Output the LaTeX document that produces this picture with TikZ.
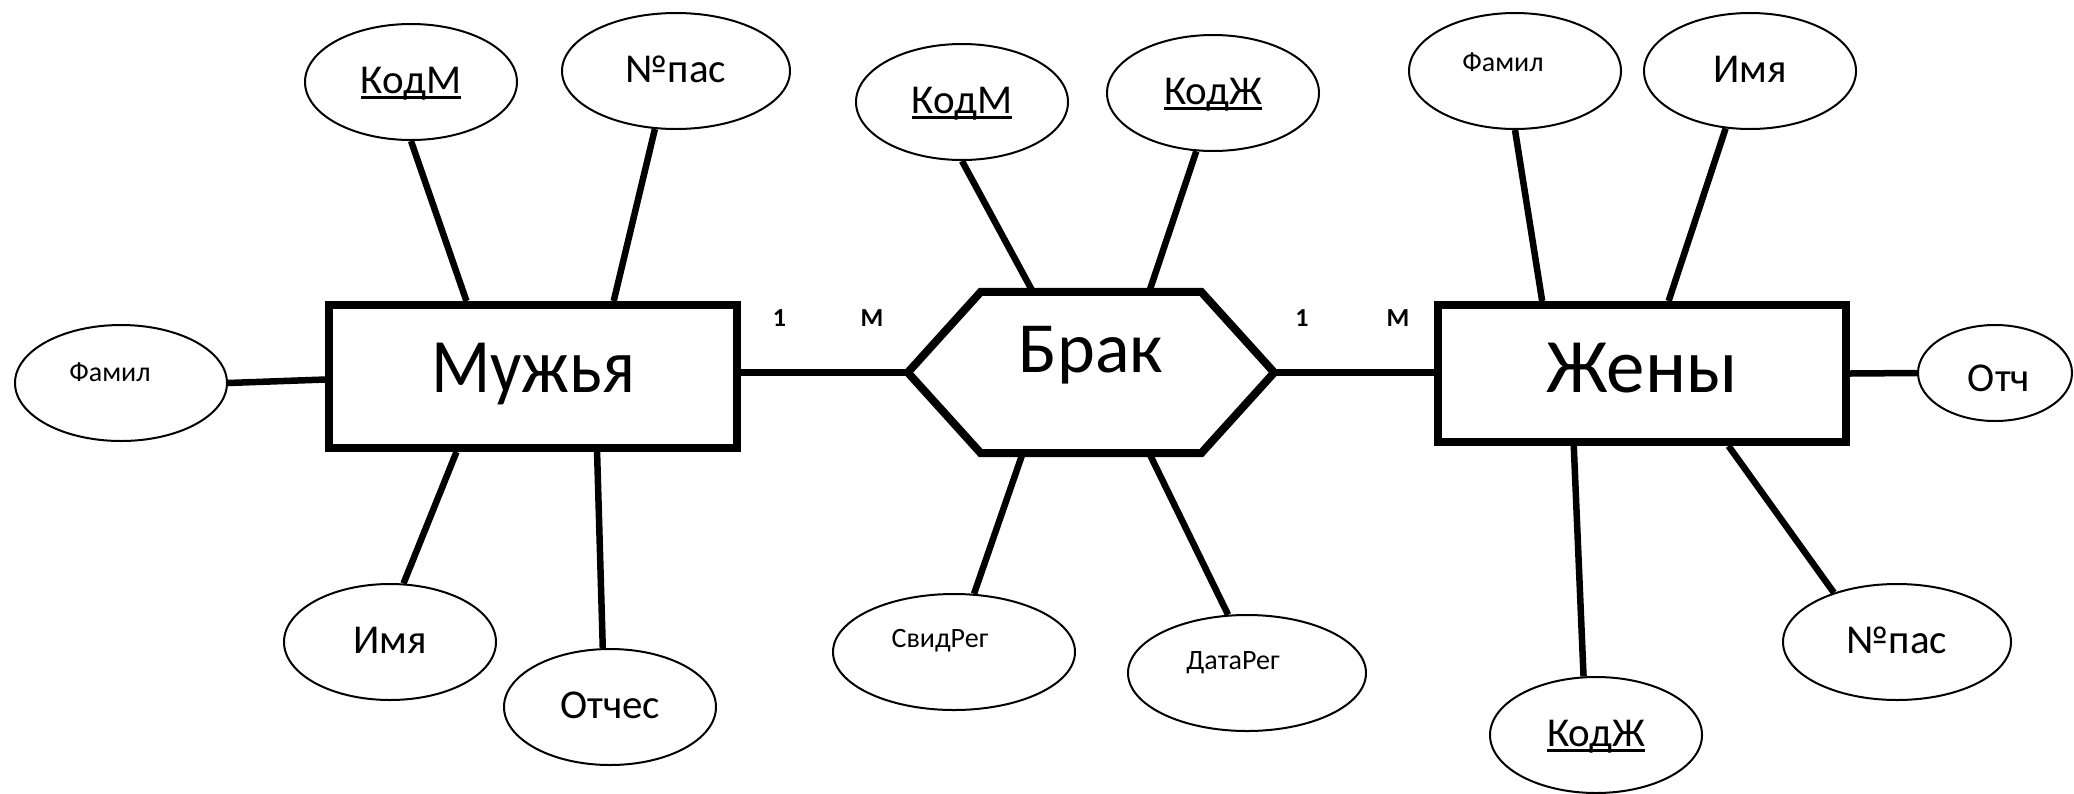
\documentclass[tikz,border=0pt]{standalone}
\usepackage{fontspec}
\usepackage{graphicx}
\setmainfont{Carlito}
\usetikzlibrary{shapes.geometric,calc}
\newcommand\ulin[1]{\setbox0\hbox{#1}\rlap{\rule[-6pt]{\wd0}{3.5pt}}\box0}
\begin{document}
\begin{tikzpicture}[x=1pt,y=-1pt,
  ent/.style={draw, line width=8pt, inner sep=0pt, minimum width=408pt, font=\fontsize{77}{80}\selectfont, text depth=0pt},
  attr/.style={draw, ellipse, line width=2pt, inner sep=0pt, minimum width=212pt, minimum height=116pt, font=\fontsize{41}{44}\selectfont, text height=22pt, text depth=0pt},
  link/.style={line width=6.5pt},
  card/.style={font=\bfseries\fontsize{26}{28}\selectfont, inner sep=0pt},
  smalltxt/.style={font=\fontsize{28}{30}\selectfont, inner sep=0pt},
  midtxt/.style={font=\fontsize{41}{44}\selectfont, inner sep=0pt}
]
\useasboundingbox (0,0) rectangle (2074,793);

% entities
\node[ent, minimum height=143pt, text height=31pt] (muz) at (533,376.5) {\scalebox{0.9}[1]{Мужья}};
\node[ent, minimum height=137pt, text height=37pt] (jen) at (1642,373.5) {Жены};

% relationship
\node[inner sep=0pt, minimum width=366pt, minimum height=161pt, font=\fontsize{72}{74}\selectfont, text height=0pt, text depth=0pt] (brak) at (1091,372.5) {Брак};
\coordinate (hTL) at ($(brak.north west)+(73,0)$);
\coordinate (hTR) at ($(brak.north east)+(-73,0)$);
\coordinate (hBL) at ($(brak.south west)+(73,0)$);
\coordinate (hBR) at ($(brak.south east)+(-73,0)$);

% attributes
\node[attr] (km1) at (411,82) {\ulin{КодМ}};
\node[attr, minimum width=228pt] (np1) at (676,71) {№пас};
\node[attr, label={[smalltxt, shift={(-11,-11)}]center:Фамил}] (fam1) at (121,383) {};
\node[attr] (imya1) at (390,642) {Имя};
\node[attr] (otc) at (610,707) {Отчес};
\node[attr] (km2) at (962,102) {\ulin{КодМ}};
\node[attr] (kj2) at (1213,93) {\ulin{КодЖ}};
\node[attr, minimum width=242pt, label={[smalltxt, shift={(-14,-11)}]center:СвидРег}] (svid) at (954,652) {};
\node[attr, minimum width=238pt, label={[smalltxt, shift={(-14,-10)}]center:ДатаРег}] (data) at (1247,673) {};
\node[attr, label={[smalltxt, shift={(-12,-9)}]center:Фамил}] (fam2) at (1515,71) {};
\node[attr] (imya2) at (1750,71) {Имя};
\node[attr] (kj3) at (1596,735) {\ulin{КодЖ}};
\node[attr, minimum width=228pt] (np2) at (1897,642) {№пас};
\node[attr, minimum width=154pt, minimum height=96pt, label={[midtxt, shift={(4,5)}]center:Отч}] (otch) at (1995,373) {};

% cardinalities
\node[card] (c1) at (779.5,318.5) {1};
\node[card] (c2) at (872,318.5) {М};
\node[card] (c3) at (1302,318.5) {1};
\node[card] (c4) at (1398,318.5) {М};

% connectors
\draw[link] (km1.south) -- ($(muz.north west)!0.34!(muz.north east)$);
\draw[link] (np1.250.7) -- ($(muz.north west)!0.694!(muz.north east)$);
\draw[link] (fam1.east) -- ($(muz.north west)!0.52!(muz.south west)$);
\draw[link] ($(muz.south west)!0.316!(muz.south east)$) -- (imya1.77.6);
\draw[link] ($(muz.south west)!0.654!(muz.south east)$) -- (otc.97.7);

\draw[link] (km2.south) -- ($(hTL)!0.236!(hTR)$);
\draw[link] (kj2.254.8) -- ($(hTL)!0.764!(hTR)$);
\draw[link] ($(hBL)!0.19!(hBR)$) -- (svid.71.6);
\draw[link] ($(hBL)!0.764!(hBR)$) -- (data.108.1);

\draw[link] (fam2.south) -- ($(jen.north west)!0.26!(jen.north east)$);
\draw[link] (imya2.247) -- ($(jen.north west)!0.564!(jen.north east)$);
\draw[link] ($(jen.south west)!0.336!(jen.south east)$) -- (kj3.102.6);
\draw[link] ($(jen.south west)!0.708!(jen.south east)$) -- (np2.142);
\draw[link] (jen.east) -- (otch.west);

\draw[link] (brak.west) -- (brak.west -| muz.east);
\draw[link] (brak.east) -- (brak.east -| jen.west);

% hexagon outline
\draw[line width=8pt, line join=miter] (brak.west) -- (hTL) -- (hTR) -- (brak.east) -- (hBR) -- (hBL) -- cycle;
\end{tikzpicture}
\end{document}
